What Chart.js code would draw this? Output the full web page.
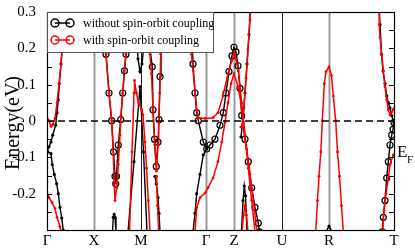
<!DOCTYPE html>
<html>
<head>
<meta charset="utf-8">
<script src="https://cdn.jsdelivr.net/npm/chart.js@4/dist/chart.umd.min.js"></script>
<style>
  html, body { margin: 0; padding: 0; background: #fff; }
  canvas { display: block; }
</style>
</head>
<body>
<canvas id="bandas" width="415" height="249"></canvas>
<script>
// Puntos de alta simetría (k en unidades arbitrarias a lo largo del camino)
const kLabels = ['Γ', 'X', 'M', 'Γ', 'Z', 'U', 'R', 'T'];
const kTicks = [0, 0.47, 0.94, 1.59, 1.87, 2.35, 2.82, 3.47];

// Bandas sin acoplamiento espín-órbita (k, E en eV)
const b1K = [0, 0.02, 0.04, 0.057, 0.087, 0.10, 0.113, 0.123, 0.14, 0.155, 0.165, 0.175];
const b1E = [-0.077, -0.071, -0.058, -0.039, -0.012, 0.023, 0.058, 0.103, 0.157, 0.211, 0.265, 0.32];
const b2K = [0, 0.01, 0.04, 0.053, 0.073, 0.097, 0.113, 0.13, 0.147, 0.163, 0.168];
const b2E = [-0.077, -0.085, -0.090, -0.120, -0.147, -0.173, -0.200, -0.238, -0.267, -0.300, -0.305];
const b3K = [0.57, 0.59, 0.62, 0.647, 0.665, 0.68, 0.687, 0.695, 0.713, 0.737, 0.757, 0.775, 0.79, 0.81, 0.815];
const b3E = [0.32, 0.184, 0.077, 0.001, -0.085, -0.152, -0.173, -0.152, -0.066, 0.004, 0.077, 0.138, 0.184, 0.278, 0.32];
const b4K = [0.655, 0.663, 0.672, 0.68, 0.69];
const b4E = [-0.305, -0.265, -0.257, -0.265, -0.305];
const b5K = [0.81, 0.87, 0.93, 0.965, 1.00];
const b5E = [-0.305, -0.112, 0.095, -0.085, -0.305];
const b6K = [0.88, 0.895, 0.91, 0.93, 0.95, 0.97, 0.99, 1.00];
const b6E = [0.32, 0.238, 0.171, 0.136, 0.157, 0.211, 0.278, 0.32];
const b7K = [1.01, 1.03, 1.053, 1.06, 1.075, 1.093, 1.11, 1.12, 1.13, 1.14, 1.145];
const b7E = [0.32, 0.198, 0.149, 0.031, -0.050, -0.125, -0.058, 0.004, 0.122, 0.238, 0.32];
const b8K = [1.08, 1.093, 1.11, 1.12, 1.13];
const b8E = [-0.152, -0.173, -0.211, -0.254, -0.305];
const b9K = [1.44, 1.46, 1.48, 1.497, 1.513, 1.563, 1.597, 1.63, 1.68, 1.73, 1.763, 1.79, 1.82, 1.85, 1.87, 1.89, 1.91, 1.93, 1.947, 1.98, 2.013, 2.047, 2.08, 2.113, 2.125];
const b9E = [0.32, 0.157, 0.077, 0.023, 0.001, -0.058, -0.077, -0.066, -0.050, -0.012, 0.023, 0.077, 0.136, 0.179, 0.203, 0.190, 0.152, 0.090, 0.015, -0.050, -0.112, -0.184, -0.238, -0.281, -0.305];
const b10K = [1.46, 1.48, 1.497, 1.53, 1.563, 1.597];
const b10E = [-0.305, -0.254, -0.200, -0.147, -0.093, -0.077];
const b11K = [1.94, 1.96, 1.98, 2.00, 2.02, 2.035];
const b11E = [-0.044, 0.009, 0.077, 0.157, 0.238, 0.32];
const b12K = [1.945, 1.96, 1.973, 1.985, 2.00];
const b12E = [-0.305, -0.219, -0.179, -0.206, -0.305];
const b13K = [2.79, 2.82, 2.85];
const b13E = [-0.305, -0.289, -0.305];
const b14K = [3.32, 3.33, 3.345, 3.36, 3.38, 3.397, 3.413, 3.43, 3.447, 3.463, 3.47];
const b14E = [0.32, 0.265, 0.184, 0.138, 0.103, 0.069, 0.050, 0.036, 0.015, 0.001, -0.004];
const b15K = [3.47, 3.46, 3.447, 3.43, 3.413, 3.397, 3.38, 3.363, 3.353];
const b15E = [-0.004, -0.023, -0.039, -0.066, -0.112, -0.157, -0.219, -0.265, -0.305];

// Bandas con acoplamiento espín-órbita
const r1K = [0, 0.02, 0.04, 0.06, 0.08, 0.10, 0.12, 0.14, 0.155, 0.165, 0.175];
const r1E = [0.009, 0.001, -0.015, -0.009, 0.007, 0.050, 0.103, 0.157, 0.211, 0.265, 0.32];
const r2K = [0, 0.02, 0.05, 0.08, 0.10, 0.13, 0.14];
const r2E = [-0.198, -0.211, -0.224, -0.241, -0.265, -0.291, -0.305];
const r3K = [0.57, 0.59, 0.62, 0.647, 0.663, 0.673, 0.68, 0.697, 0.713, 0.73, 0.74, 0.757, 0.773, 0.79, 0.81, 0.815];
const r3E = [0.32, 0.184, 0.077, 0.001, -0.093, -0.173, -0.219, -0.184, -0.120, -0.039, 0.015, 0.077, 0.138, 0.184, 0.278, 0.32];
const r4K = [0.825, 0.85, 0.87, 0.875, 0.895, 0.915, 0.947, 0.96, 0.98, 0.995, 1.013, 1.03];
const r4E = [-0.305, -0.085, 0.077, 0.112, 0.077, 0.050, 0.031, 0.017, -0.058, -0.130, -0.219, -0.305];
const r5K = [1.01, 1.03, 1.045, 1.06, 1.077, 1.095, 1.11, 1.117, 1.127, 1.137, 1.143, 1.145];
const r5E = [0.32, 0.184, 0.130, 0.031, -0.066, -0.138, -0.066, -0.004, 0.077, 0.184, 0.300, 0.32];
const r6K = [1.095, 1.105, 1.117];
const r6E = [-0.152, -0.233, -0.305];
const r7K = [1.43, 1.445, 1.46, 1.48, 1.497, 1.513, 1.58, 1.66, 1.71, 1.76, 1.81, 1.847, 1.873, 1.913, 1.947, 1.98, 2.013, 2.047, 2.08];
const r7E = [0.32, 0.184, 0.138, 0.085, 0.031, 0.009, 0.007, 0.009, 0.023, 0.069, 0.130, 0.165, 0.190, 0.138, 0.050, -0.039, -0.130, -0.219, -0.305];
const r8K = [1.48, 1.497, 1.53, 1.58, 1.61, 1.66, 1.71, 1.747, 1.78, 1.81, 1.84, 1.87, 1.91, 1.94, 1.963, 1.997, 2.03, 2.063, 2.10];
const r8E = [-0.305, -0.238, -0.211, -0.198, -0.184, -0.157, -0.112, -0.058, -0.004, 0.050, 0.103, 0.130, 0.095, 0.050, -0.004, -0.077, -0.147, -0.219, -0.305];
const r9K = [1.94, 1.95, 1.97, 1.99, 2.01, 2.03, 2.04];
const r9E = [-0.017, -0.017, 0.036, 0.117, 0.198, 0.278, 0.32];
const r10K = [1.95, 1.965, 1.98, 1.995, 2.01];
const r10E = [-0.305, -0.259, -0.233, -0.259, -0.305];
const r11K = [2.687, 2.705, 2.72, 2.738, 2.753, 2.773, 2.79, 2.82, 2.845, 2.863, 2.887, 2.905, 2.925, 2.945, 2.963];
const r11E = [-0.305, -0.219, -0.152, -0.085, 0.001, 0.103, 0.136, 0.149, 0.125, 0.069, 0.001, -0.085, -0.152, -0.233, -0.305];
const r12K = [3.32, 3.323, 3.33, 3.347, 3.363, 3.38, 3.397, 3.413, 3.43, 3.447, 3.463, 3.47];
const r12E = [0.32, 0.265, 0.230, 0.184, 0.138, 0.095, 0.058, 0.031, 0.017, 0.025, 0.031, 0.034];
const r13K = [3.463, 3.43, 3.413, 3.39, 3.37, 3.357];
const r13E = [-0.093, -0.120, -0.157, -0.200, -0.246, -0.300];

const bandasSinSOC = [[b1K, b1E], [b2K, b2E], [b3K, b3E], [b4K, b4E], [b5K, b5E], [b6K, b6E], [b7K, b7E],
    [b8K, b8E], [b9K, b9E], [b10K, b10E], [b11K, b11E], [b12K, b12E], [b13K, b13E], [b14K, b14E], [b15K, b15E]];
const bandasConSOC = [[r1K, r1E], [r2K, r2E], [r3K, r3E], [r4K, r4E], [r5K, r5E], [r6K, r6E], [r7K, r7E],
    [r8K, r8E], [r9K, r9E], [r10K, r10E], [r11K, r11E], [r12K, r12E], [r13K, r13E]];

// Bandas que se dibujan con círculos abiertos
const conCirculos = [2, 6, 8, 14];

const toPts = (k, e) => k.map((v, i) => ({ x: v, y: e[i] }));

const datasets = [];
bandasSinSOC.forEach(([k, e], i) => {
    const abierto = conCirculos.includes(i);
    datasets.push({
        data: toPts(k, e), showLine: true, order: 1, clip: 0,
        borderColor: '#000', borderWidth: 1.4,
        pointRadius: abierto ? 3 : 1.6,
        pointBackgroundColor: abierto ? 'rgba(0,0,0,0)' : '#000',
        pointBorderColor: '#000', pointBorderWidth: abierto ? 1.2 : 0
    });
});
bandasConSOC.forEach(([k, e]) => {
    datasets.push({
        data: toPts(k, e), showLine: true, order: 0, clip: 0,
        borderColor: '#ff0000', borderWidth: 1.5,
        pointRadius: 1.4, pointBackgroundColor: '#ff0000', pointBorderWidth: 0
    });
});

// Líneas verticales, línea de Fermi, marco, leyenda y rótulos
const decoraciones = {
    id: 'decoraciones',
    beforeDatasetsDraw(chart) {
        const { ctx, chartArea: a, scales: { x } } = chart;
        ctx.save();
        kTicks.forEach((k, i) => {
            if (i === 0 || i === kTicks.length - 1) return;
            const px = Math.round(x.getPixelForValue(k)) + 0.5;
            const oscura = kLabels[i] === 'M' || kLabels[i] === 'U';
            ctx.strokeStyle = oscura ? '#222' : '#999';
            ctx.lineWidth = oscura ? 1 : 2;
            ctx.beginPath();
            ctx.moveTo(px, a.top);
            ctx.lineTo(px, a.bottom);
            ctx.stroke();
        });
        ctx.restore();
    },
    afterDatasetsDraw(chart) {
        const { ctx, chartArea: a, scales: { y } } = chart;
        ctx.save();
        // Nivel de Fermi
        const y0 = y.getPixelForValue(0);
        ctx.strokeStyle = '#000';
        ctx.lineWidth = 1.6;
        ctx.setLineDash([7, 4]);
        ctx.beginPath();
        ctx.moveTo(a.left, y0);
        ctx.lineTo(a.right, y0);
        ctx.stroke();
        ctx.setLineDash([]);
        // Marcas en los ejes izquierdo y derecho
        ctx.lineWidth = 1;
        for (let v = -0.25; v < 0.26; v += 0.05) {
            const py = Math.round(y.getPixelForValue(v)) + 0.5;
            ctx.beginPath();
            ctx.moveTo(a.left, py); ctx.lineTo(a.left + 5, py);
            ctx.moveTo(a.right, py); ctx.lineTo(a.right - 5, py);
            ctx.stroke();
        }
        // Marco
        ctx.lineWidth = 1.2;
        ctx.strokeRect(a.left + 0.5, a.top + 0.5, a.right - a.left, a.bottom - a.top);
        ctx.restore();
    },
    afterDraw(chart) {
        const { ctx, chartArea: a } = chart;
        ctx.save();
        // Leyenda
        const lx = a.left, ly = a.top, lw = 166, lh = 40;
        ctx.fillStyle = '#fff';
        ctx.fillRect(lx, ly, lw, lh);
        ctx.strokeStyle = '#555';
        ctx.lineWidth = 1;
        ctx.strokeRect(lx + 0.5, ly + 0.5, lw, lh);
        const entradas = [
            { texto: 'without spin-orbit coupling', color: '#000', y: ly + 11 },
            { texto: 'with spin-orbit coupling', color: '#ff0000', y: ly + 28 }
        ];
        ctx.font = '12px "Liberation Serif", "DejaVu Serif", serif';
        ctx.textBaseline = 'middle';
        entradas.forEach(e => {
            ctx.strokeStyle = e.color;
            ctx.lineWidth = 1.5;
            ctx.beginPath();
            ctx.moveTo(lx + 8, e.y); ctx.lineTo(lx + 23, e.y);
            ctx.stroke();
            [lx + 8, lx + 23].forEach(cx => {
                ctx.beginPath();
                ctx.arc(cx, e.y, 4, 0, Math.PI * 2);
                ctx.stroke();
            });
            ctx.fillStyle = '#000';
            ctx.fillText(e.texto, lx + 36, e.y + 1);
        });
        // Etiqueta E_F
        ctx.textBaseline = 'alphabetic';
        ctx.font = '17px "Liberation Serif", serif';
        ctx.fillText('E', a.right + 3, 157);
        ctx.font = '11px "Liberation Serif", serif';
        ctx.fillText('F', a.right + 13, 163);
        // Título del eje y
        ctx.translate(14, 123);
        ctx.rotate(-Math.PI / 2);
        ctx.font = '20px "Liberation Serif", serif';
        ctx.textAlign = 'center';
        ctx.textBaseline = 'middle';
        ctx.fillText('Energy(eV)', 0, 0);
        ctx.restore();
    }
};

Chart.defaults.font.family = '"Liberation Serif", "DejaVu Serif", serif';
Chart.defaults.color = '#000';

new Chart(document.getElementById('bandas'), {
    type: 'scatter',
    data: { datasets: datasets },
    options: {
        responsive: false,
        animation: false,
        layout: { padding: { top: 7, right: 21, left: 0, bottom: 0 } },
        plugins: { legend: { display: false }, tooltip: { enabled: false } },
        elements: { line: { tension: 0 } },
        scales: {
            x: {
                type: 'linear', min: 0, max: 3.47,
                grid: { display: false }, border: { display: false },
                afterBuildTicks: s => { s.ticks = kTicks.map(v => ({ value: v })); },
                afterFit: s => { s.height = 19; },
                ticks: {
                    autoSkip: false, maxRotation: 0, padding: -6,
                    font: { size: 15 },
                    callback: (v, i) => kLabels[i]
                }
            },
            y: {
                min: -0.3, max: 0.3,
                grid: { display: false }, border: { display: false },
                afterFit: s => { s.width = 47; },
                ticks: {
                    stepSize: 0.1, padding: 3,
                    font: { size: 15 },
                    callback: v => {
                        const r = Math.round(v * 10) / 10;
                        if (r < -0.25) return '';
                        return r === 0 ? '0' : r.toFixed(1);
                    }
                }
            }
        }
    },
    plugins: [decoraciones]
});
</script>
</body>
</html>
